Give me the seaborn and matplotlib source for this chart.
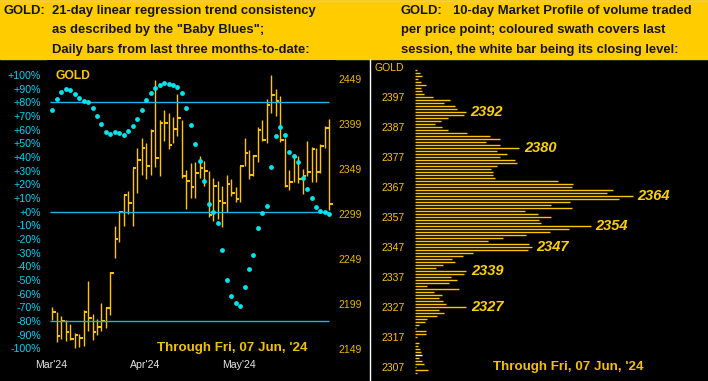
import numpy as np
import matplotlib.pyplot as plt
import seaborn as sns
from matplotlib.patches import Rectangle
from matplotlib.lines import Line2D

# Daily bars (high / low / close), Mar'24 - 07 Jun'24
highs = [2196, 2190, 2186, 2182, 2177, 2167, 2166, 2193, 2225, 2188,
         2183, 2200, 2196, 2235, 2286, 2302, 2321, 2325, 2350, 2372,
         2383, 2378, 2394, 2448, 2404, 2415, 2411, 2407, 2432, 2404,
         2348, 2356, 2357, 2364, 2358, 2347, 2339, 2336, 2330, 2342,
         2338, 2329, 2353, 2384, 2370, 2365, 2396, 2403, 2427, 2454,
         2438, 2430, 2383, 2348, 2366, 2364, 2349, 2380, 2374, 2372,
         2377, 2397, 2405]
lows = [2181, 2157, 2160, 2158, 2159, 2150, 2152, 2153, 2169, 2159,
        2165, 2169, 2173, 2187, 2250, 2268, 2286, 2299, 2286, 2322,
        2343, 2338, 2343, 2351, 2341, 2380, 2371, 2378, 2386, 2339,
        2305, 2317, 2317, 2339, 2330, 2296, 2291, 2294, 2285, 2301,
        2319, 2312, 2313, 2352, 2338, 2341, 2357, 2380, 2378, 2411,
        2408, 2379, 2329, 2326, 2335, 2334, 2321, 2341, 2335, 2335,
        2345, 2372, 2304]
closes = [2190, 2164, 2180, 2168, 2160, 2165, 2162, 2190, 2184, 2168,
          2174, 2180, 2195, 2234, 2272, 2301, 2320, 2311, 2350, 2359,
          2372, 2353, 2391, 2361, 2400, 2400, 2376, 2394, 2406, 2341,
          2336, 2329, 2345, 2350, 2347, 2298, 2330, 2314, 2311, 2333,
          2323, 2316, 2353, 2367, 2342, 2364, 2392, 2381, 2420, 2431,
          2425, 2381, 2330, 2335, 2363, 2338, 2341, 2346, 2371, 2346,
          2375, 2395, 2310]

# "Baby Blues": 21-day linear regression trend consistency (%)
blues = [74.4, 82.4, 87.6, 89.5, 89.0, 86.3, 83.4, 81.2, 80.2, 76.1,
         70.2, 64.4, 58.5, 57.1, 58.5, 57.8, 56.3, 59.3, 62.9, 68.0,
         74.4, 81.7, 87.1, 90.7, 92.9, 94.4, 93.7, 92.9, 91.5, 87.1,
         76.1, 63.7, 49.5, 37.3, 22.7, 5.6, 0.0, -8.0, -28.0, -50.0,
         -61.5, -66.8, -68.8, -55.1, -42.0, -31.5, -11.7, -0.7, 4.4, 32.9,
         55.6, 62.2, 56.3, 43.9, 41.0, 36.6, 24.4, 16.8, 10.2, 3.7,
         0.7, 0.0, -2.0]

month_labels = ["Mar'24", "Apr'24", "May'24"]
month_pos = [-0.3, 20.85, 41.75]
pct_ticks = list(range(100, -101, -10))
price_ticks = [2149, 2199, 2249, 2299, 2349, 2399, 2449]

# 10-day market profile: price level -> relative volume
profile_levels = list(range(2406, 2304, -1))
profile_volume = [1.7, 5, 6.7, 3.3, 6, 10.7, 6, 6.7, 9, 17.7,
                  35, 29, 40, 41.7, 50.7, 49, 32.7, 25.7, 20, 26.7,
                  32.7, 51.7, 75, 85, 71, 85, 104, 81.7, 91.7, 85,
                  100, 101.7, 81.7, 75.7, 77.7, 78.3, 80, 142.7, 158.3, 156.7,
                  197.7, 191.7, 217.7, 204.3, 155, 135.7, 157.3, 110, 122.7, 135.7,
                  124, 126, 175.7, 154, 135, 110.7, 87.7, 72.7, 114.3, 116.7,
                  112.7, 57.7, 47.7, 37.3, 40, 27.7, 21, 51, 49.3, 35.7,
                  41.7, 34, 11.7, 44, 19, 26.7, 24, 28, 31, 51,
                  24, 29, 22.3, 12, 10.3, 4.3, 1, 11, 11, 2,
                  0, 4, 3, 5, 6, 7, 4, 7, 9, 1,
                  13, 2]
close_level = 2311
peak_levels = [2392, 2380, 2364, 2354, 2347, 2339, 2327]
profile_ticks = [2307, 2317, 2327, 2337, 2347, 2357, 2367, 2377, 2387, 2397, 2407]

GOLD = '#FFC600'
CYAN = '#00E6F0'
LINE = '#19B4E8'
HEAD = '#FFCC00'

sns.set_style('dark', {'axes.facecolor': 'black', 'figure.facecolor': 'black'})
plt.rcParams['font.family'] = ['Liberation Sans', 'DejaVu Sans']

W, H = 708, 381
fig = plt.figure(figsize=(W / 100, H / 100), dpi=100, facecolor='black')


def fx(x):
    return x / W


def fy(y):
    return 1 - y / H


# header band
fig.add_artist(Rectangle((0, fy(59)), 1, 59 / H, transform=fig.transFigure,
                         color=HEAD, zorder=0))
fig.add_artist(Line2D([0, 1], [fy(0.5), fy(0.5)], transform=fig.transFigure,
                      color='#C8C8C8', lw=1))
fig.add_artist(Line2D([fx(369.5), fx(369.5)], [fy(59), 0],
                      transform=fig.transFigure, color='white', lw=1))

hdr = dict(fontsize=9.4, fontweight='bold', color='#151515', va='baseline')
fig.text(fx(4), fy(14), 'GOLD:', **hdr)
fig.text(fx(52), fy(14), '21-day linear regression trend consistency', **hdr)
fig.text(fx(52), fy(33.5), 'as described by the "Baby Blues";', **hdr)
fig.text(fx(52), fy(53), 'Daily bars from last three months-to-date:', **hdr)
fig.text(fx(400.5), fy(14), 'GOLD:', **hdr)
fig.text(fx(453), fy(14), '10-day Market Profile of volume traded', **hdr)
fig.text(fx(400.5), fy(33.5), 'per price point; coloured swath covers last', **hdr)
fig.text(fx(400.5), fy(53), 'session, the white bar being its closing level:', **hdr)

# ---- left panel: bars + Baby Blues
rect = [fx(47), fy(356), fx(336) - fx(47), (356 - 60) / H]
ax_p = fig.add_axes(rect)
ax_c = fig.add_axes(rect, sharex=ax_p)
ax_c.patch.set_alpha(0)

idx = np.arange(len(closes))
ax_p.vlines(idx, lows, highs, color=GOLD, lw=1)
ax_p.hlines(closes, idx, idx + 0.8, color=GOLD, lw=1.4)
ax_p.set_ylim(2141.6, 2470.1)
ax_p.yaxis.tick_right()
ax_p.set_yticks(price_ticks)
ax_p.tick_params(axis='y', length=0, pad=1.5, labelsize=7.5, labelcolor='#E8B800')

ax_c.hlines([80, 0, -80], -0.5, len(closes) - 1.1, color=LINE, lw=1)
sns.scatterplot(x=idx, y=blues, ax=ax_c, color=CYAN, s=12, marker='o',
                linewidth=0, legend=False, zorder=5)
ax_c.set_ylim(-105.56, 110.97)
ax_c.set_xlim(-1.19, 63.47)
ax_c.yaxis.tick_left()
ax_c.set_yticks(pct_ticks)
ax_c.set_yticklabels([f'{v:+d}%' for v in pct_ticks])
ax_c.tick_params(axis='y', length=0, pad=4.3, labelsize=7.7, labelcolor='#00D4F4')
ax_c.set_xticks(month_pos)
ax_c.set_xticklabels(month_labels)
ax_c.tick_params(axis='x', length=0, pad=3, labelsize=7.6, labelcolor='#E6E6E6')
ax_p.tick_params(axis='x', length=0, labelbottom=False)

for a in (ax_p, ax_c):
    a.grid(False)
    a.set_xlabel('')
    a.set_ylabel('')
    for s in a.spines.values():
        s.set_visible(False)

fig.text(fx(55), fy(76), 'GOLD', fontsize=8.7, fontweight='bold', color=GOLD,
         va='center')
fig.text(fx(232.5), fy(348), "Through Fri, 07 Jun, '24", fontsize=9.6,
         fontweight='bold', color='#F2C200', ha='center', va='center')

# ---- right panel: market profile
ax_r = fig.add_axes([fx(415), 0, fx(708) - fx(415), (381 - 60) / H])
ax_r.patch.set_alpha(0)
bar_cols = ['white' if lv == close_level else GOLD for lv in profile_levels]
ax_r.hlines(profile_levels, 0, profile_volume, colors=bar_cols, lw=1)
ax_r.set_ylim(2302.33, 2409.33)
ax_r.set_xlim(0, 293)
ax_r.set_yticks(profile_ticks)
ax_r.set_yticklabels([str(t) for t in profile_ticks[:-1]] + ['GOLD'])
ax_r.tick_params(axis='y', length=0, pad=7.7, labelsize=7.5, labelcolor=GOLD)
ax_r.set_xticks([])
ax_r.grid(False)
for s in ax_r.spines.values():
    s.set_visible(False)

vol_at = dict(zip(profile_levels, profile_volume))
for lv in peak_levels:
    ax_r.annotate(str(lv), (vol_at[lv], lv), xytext=(3.6, 0),
                  textcoords='offset points', fontsize=10.5, fontweight='bold',
                  fontstyle='italic', color='#FFD000', va='center', ha='left')

fig.text(fx(568.5), fy(367), "Through Fri, 07 Jun, '24", fontsize=9.6,
         fontweight='bold', color='#F2C200', ha='center', va='center')

fig.savefig('out.png', dpi=100, facecolor='black')
